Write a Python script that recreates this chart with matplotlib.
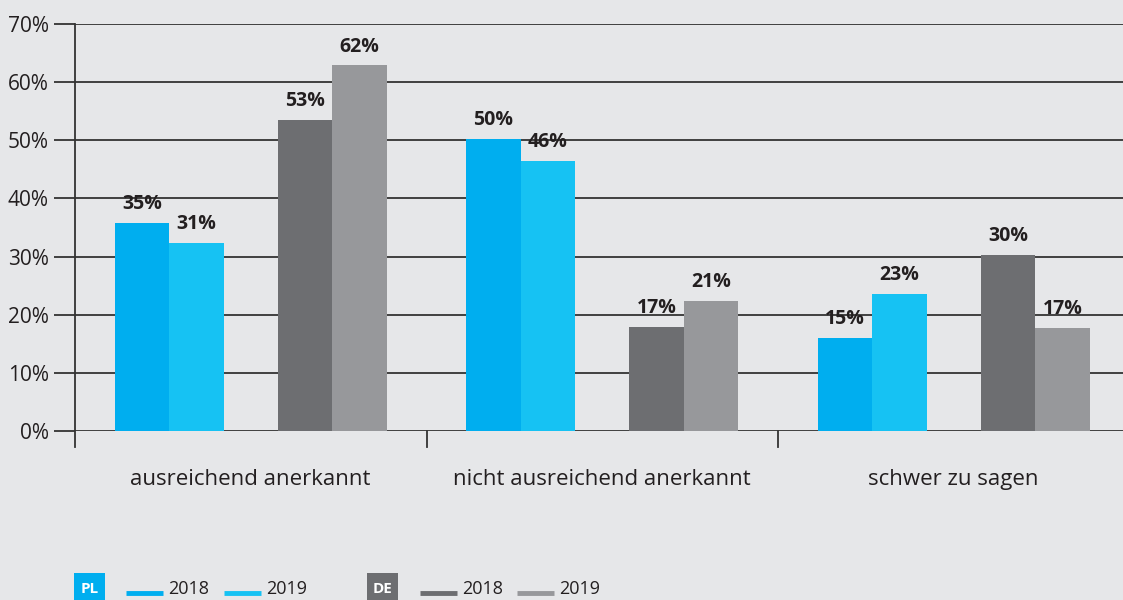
import numpy as np
import matplotlib.pyplot as plt
from matplotlib.lines import Line2D
from matplotlib.patches import Rectangle

# values (bar heights) and the printed labels
categories = ['ausreichend anerkannt', 'nicht ausreichend anerkannt', 'schwer zu sagen']
pl_2018 = [35.8, 50.2, 16.0]
pl_2019 = [32.3, 46.4, 23.6]
de_2018 = [53.5, 17.9, 30.3]
de_2019 = [62.9, 22.4, 17.7]
pl_2018_lbl = ['35%', '50%', '15%']
pl_2019_lbl = ['31%', '46%', '23%']
de_2018_lbl = ['53%', '17%', '30%']
de_2019_lbl = ['62%', '21%', '17%']
yticks = [0, 10, 20, 30, 40, 50, 60, 70]

bg = '#e6e7e9'
c_pl18, c_pl19 = '#00aeef', '#16c2f3'
c_de18, c_de19 = '#6d6e71', '#97989b'
dark = '#333333'
txt_c = '#231f20'

plt.rcParams['font.family'] = ['Open Sans', 'DejaVu Sans']

fig = plt.figure(figsize=(11.23, 6), dpi=100, facecolor=bg)
ax = fig.add_axes([75 / 1123, 169 / 600, 1048 / 1123, 407 / 600])
ax.set_facecolor(bg)

x = np.arange(len(categories)) + 0.5
w = 0.155
off = 0.232

series = [
    (x - off - w / 2, pl_2018, pl_2018_lbl, c_pl18),
    (x - off + w / 2, pl_2019, pl_2019_lbl, c_pl19),
    (x + off - w / 2, de_2018, de_2018_lbl, c_de18),
    (x + off + w / 2, de_2019, de_2019_lbl, c_de19),
]
for pos, vals, lbls, col in series:
    ax.bar(pos, vals, width=w, color=col, zorder=3)
    for p, v, t in zip(pos, vals, lbls):
        ax.text(p, v + 1.5, t, ha='center', va='bottom', fontsize=14,
                fontweight='bold', color=txt_c, zorder=4)

ax.set_xlim(0, 1048 / 351.5)
ax.set_ylim(0, 70)
ax.set_yticks(yticks)
ax.set_yticklabels([f'{t}%' for t in yticks], fontsize=15, color=txt_c)
ax.tick_params(axis='y', length=15, width=1.3, color=dark, pad=4)
ax.grid(axis='y', color=dark, linewidth=1.3, zorder=1)
ax.set_axisbelow(True)
ax.set_xticks([])
for s in ax.spines.values():
    s.set_visible(False)

# vertical axis and group separators, reaching below the baseline
for xs in [0, 1, 2]:
    ax.plot([xs, xs], [-2.75, 70 if xs == 0 else 0], color=dark,
            linewidth=1.3, clip_on=False, zorder=2)

for xi, cat in zip(x, categories):
    ax.text(xi, -8.4, cat, ha='center', va='center', fontsize=16,
            color=txt_c)

# legend drawn by hand at the bottom
ly = 1 - 589 / 600
line_y = 1 - 593 / 600
for x0, col, txt in [(74, c_pl18, 'PL'), (367, c_de18, 'DE')]:
    fig.add_artist(Rectangle((x0 / 1123, 1 - 603 / 600), 31 / 1123, 30 / 600,
                             facecolor=col, edgecolor='none',
                             transform=fig.transFigure))
    fig.text((x0 + 15.5) / 1123, ly, txt, ha='center', va='center', fontsize=11,
             fontweight='bold', color='white')
legend_items = [(126, c_pl18, '2018'), (224, c_pl19, '2019'),
                (420, c_de18, '2018'), (517, c_de19, '2019')]
for x0, col, txt in legend_items:
    fig.add_artist(Line2D([x0 / 1123, (x0 + 37) / 1123], [line_y, line_y],
                          color=col, linewidth=3.5, solid_capstyle='butt',
                          transform=fig.transFigure))
    fig.text((x0 + 42) / 1123, ly, txt, ha='left', va='center', fontsize=13,
             color=txt_c)

fig.savefig('out.png', dpi=100, facecolor=bg)
